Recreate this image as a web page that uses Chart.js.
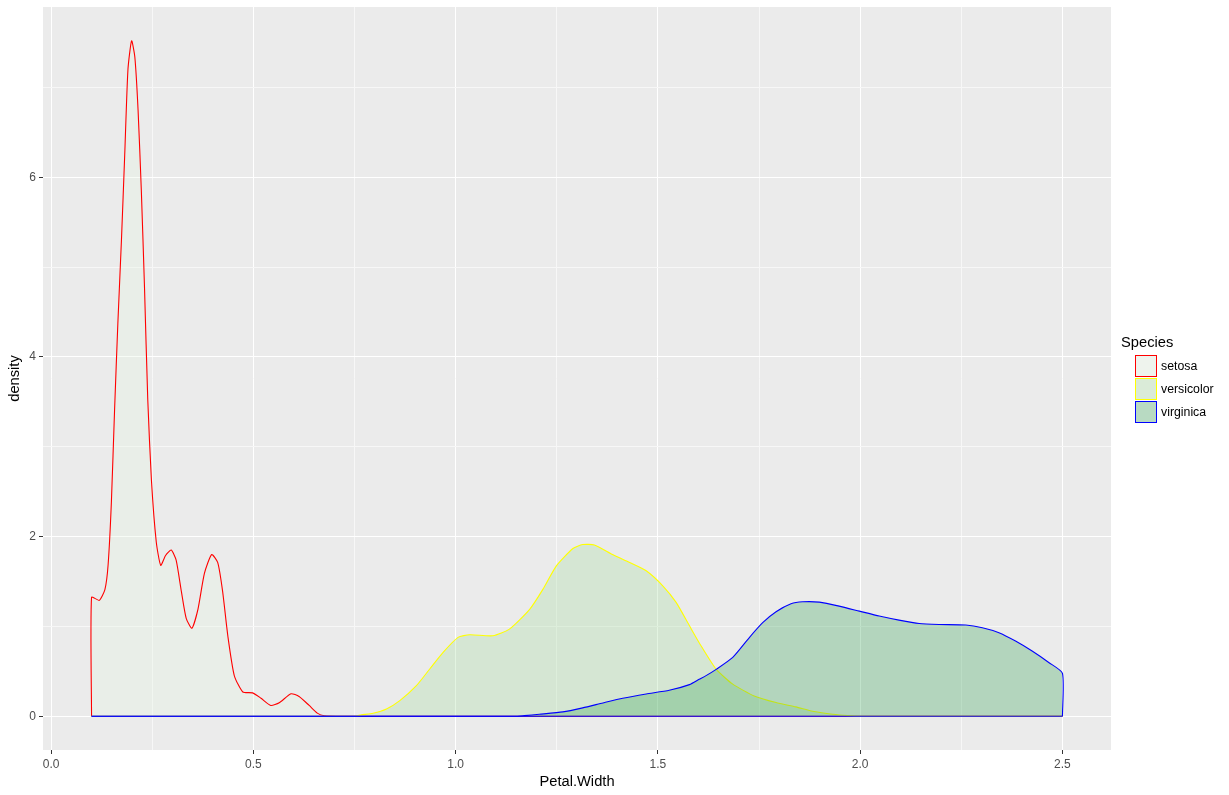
<!DOCTYPE html>
<html>
<head>
<meta charset="utf-8">
<title>Petal.Width density by Species</title>
<script src="https://cdn.jsdelivr.net/npm/chart.js@4.4.1/dist/chart.umd.min.js"></script>
<style>
  html, body { margin: 0; padding: 0; background: #ffffff; }
  #wrap { width: 1229px; height: 795px; position: relative; }
</style>
</head>
<body>
<div id="wrap"><canvas id="densityChart" width="1229" height="795"></canvas></div>
<script>
// species shown in the legend
const species = ['setosa', 'versicolor', 'virginica'];

// density outlines (Petal.Width, density)
const setosaWidth = [0.1, 0.1, 0.119, 0.133, 0.141, 0.149, 0.157, 0.165, 0.174, 0.182, 0.19, 0.199, 0.207,
  0.215, 0.223, 0.231, 0.239, 0.248, 0.26, 0.271, 0.283, 0.297, 0.309, 0.322, 0.334, 0.348, 0.363,
  0.379, 0.397, 0.412, 0.424, 0.437, 0.453, 0.474, 0.498, 0.519, 0.543, 0.564, 0.593, 0.613, 0.638,
  0.658, 0.675, 0.72, 2.5];
const setosaDensity = [0, 1.325, 1.29, 1.41, 1.69, 2.38, 3.42, 4.37, 5.31, 6.25, 7.2, 7.52, 7.34,
  6.75, 5.86, 4.76, 3.52, 2.63, 1.94, 1.68, 1.79, 1.85, 1.74, 1.39, 1.09, 0.98, 1.19,
  1.59, 1.8, 1.71, 1.39, 0.89, 0.45, 0.27, 0.26, 0.2, 0.12, 0.15, 0.25, 0.22, 0.12,
  0.035, 0.005, 0, 0];

const versicolorWidth = [0.1, 0.75, 0.767, 0.796, 0.829, 0.862, 0.903, 0.936, 0.969, 1.006, 1.035, 1.092,
  1.133, 1.183, 1.216, 1.249, 1.29, 1.314, 1.343, 1.388, 1.43, 1.471, 1.512, 1.545, 1.578, 1.602,
  1.644, 1.685, 1.738, 1.792, 1.841, 1.886, 1.932, 1.969, 2.0, 2.5];
const versicolorDensity = [0, 0, 0.015, 0.033, 0.081, 0.174, 0.34, 0.526, 0.711, 0.878, 0.907, 0.896,
  0.97, 1.19, 1.415, 1.674, 1.867, 1.911, 1.907, 1.8, 1.711, 1.619, 1.452, 1.267, 1.007, 0.819,
  0.524, 0.357, 0.226, 0.152, 0.104, 0.052, 0.022, 0.007, 0, 0];

const virginicaWidth = [0.1, 1.15, 1.17, 1.207, 1.265, 1.314, 1.364, 1.413, 1.471, 1.528, 1.578, 1.602,
  1.619, 1.644, 1.685, 1.726, 1.759, 1.792, 1.829, 1.858, 1.899, 1.948, 1.998, 2.047, 2.096, 2.146,
  2.195, 2.261, 2.302, 2.343, 2.384, 2.425, 2.467, 2.5, 2.5];
const virginicaDensity = [0, 0, 0.007, 0.022, 0.048, 0.093, 0.148, 0.2, 0.248, 0.289, 0.352, 0.411,
  0.452, 0.522, 0.655, 0.876, 1.041, 1.163, 1.252, 1.274, 1.27, 1.226, 1.17, 1.115, 1.07, 1.033,
  1.022, 1.015, 0.985, 0.93, 0.837, 0.726, 0.596, 0.478, 0];

// axis breaks and labels
const xBreaks = [0, 0.5, 1, 1.5, 2, 2.5];
const xTickLabels = ['0.0', '0.5', '1.0', '1.5', '2.0', '2.5'];
const xMinorBreaks = [0.25, 0.75, 1.25, 1.75, 2.25];
const yBreaks = [0, 2, 4, 6];
const yTickLabels = ['0', '2', '4', '6'];
const yMinorBreaks = [1, 3, 5, 7];

const lineColors = ['#FF0000', '#FFFF00', '#0000FF'];
const fillColors = ['rgba(229,245,224,0.3)', 'rgba(161,217,155,0.3)', 'rgba(49,163,84,0.3)'];
const FONT = '"Liberation Sans", Arial, sans-serif';

const toPoints = (xs, ys) => xs.map((x, i) => ({ x, y: ys[i] }));
const seriesPoints = [
  toPoints(setosaWidth, setosaDensity),
  toPoints(versicolorWidth, versicolorDensity),
  toPoints(virginicaWidth, virginicaDensity),
];
// bottom edge of the last polygon (virginica), spanning its own x range
const baseline = [
  { x: Math.min(...virginicaWidth), y: 0 },
  { x: Math.max(...virginicaWidth), y: 0 },
];

const isMajor = (breaks, v) => breaks.some(b => Math.abs(b - v) < 1e-9);
const setTicks = (major, minor) => scale => {
  scale.ticks = [...major, ...minor].sort((a, b) => a - b).map(v => ({ value: v }));
};

const panelBackground = {
  id: 'panelBackground',
  beforeDraw(chart) {
    const { ctx, chartArea: a } = chart;
    ctx.save();
    ctx.fillStyle = '#EBEBEB';
    ctx.fillRect(a.left, a.top, a.right - a.left, a.bottom - a.top);
    ctx.restore();
  },
};

const speciesLegend = {
  id: 'speciesLegend',
  afterDraw(chart) {
    const ctx = chart.ctx;
    ctx.save();
    ctx.fillStyle = '#000000';
    ctx.font = '14.7px ' + FONT;
    ctx.textBaseline = 'middle';
    ctx.fillText('Species', 1121, 343);
    const size = 22;
    species.forEach((name, i) => {
      const x = 1135;
      const y = 355 + i * 23;
      ctx.fillStyle = '#F2F2F2';
      ctx.fillRect(x, y, size, size);
      ctx.fillStyle = fillColors[i];
      ctx.fillRect(x, y, size, size);
      ctx.strokeStyle = lineColors[i];
      ctx.lineWidth = 1;
      ctx.strokeRect(x + 0.5, y + 0.5, size - 1, size - 1);
      ctx.fillStyle = '#000000';
      ctx.font = '12.3px ' + FONT;
      ctx.fillText(name, x + size + 4, y + size / 2 + 0.5);
    });
    ctx.restore();
  },
};

const densitySets = species.map((name, i) => ({
  label: name,
  data: seriesPoints[i],
  borderColor: lineColors[i],
  backgroundColor: fillColors[i],
  borderWidth: 1.1,
  pointRadius: 0,
  tension: 0.2,
  fill: 'origin',
  order: 4 - i,
}));

new Chart(document.getElementById('densityChart'), {
  type: 'line',
  data: {
    datasets: [
      ...densitySets,
      {
        label: 'virginica base',
        data: baseline,
        borderColor: lineColors[2],
        borderWidth: 1.1,
        pointRadius: 0,
        fill: false,
        order: 0,
      },
    ],
  },
  options: {
    responsive: false,
    animation: false,
    layout: { padding: { left: 0, right: 118, top: 7, bottom: 0 } },
    plugins: {
      legend: { display: false },
      tooltip: { enabled: false },
    },
    scales: {
      x: {
        type: 'linear',
        min: -0.02,
        max: 2.62,
        afterBuildTicks: setTicks(xBreaks, xMinorBreaks),
        afterFit: scale => { scale.height = 45; scale.paddingLeft = 0; scale.paddingRight = 0; },
        border: { display: false },
        grid: {
          color: c => isMajor(xBreaks, c.tick.value) ? '#FFFFFF' : '#F7F7F7',
          lineWidth: 1,
          tickLength: 4,
          tickColor: c => isMajor(xBreaks, c.tick.value) ? '#333333' : 'rgba(0,0,0,0)',
        },
        ticks: {
          autoSkip: false,
          maxRotation: 0,
          padding: 3,
          color: '#4D4D4D',
          font: { family: FONT, size: 12 },
          callback: v => {
            const i = xBreaks.findIndex(b => Math.abs(b - v) < 1e-9);
            return i >= 0 ? xTickLabels[i] : '';
          },
        },
        title: {
          display: true,
          text: 'Petal.Width',
          color: '#000000',
          font: { family: FONT, size: 14.7 },
          padding: { top: 0, bottom: 4 },
        },
      },
      y: {
        type: 'linear',
        min: -0.376,
        max: 7.896,
        afterBuildTicks: setTicks(yBreaks, yMinorBreaks),
        afterFit: scale => { scale.width = 43; scale.paddingTop = 0; scale.paddingBottom = 0; },
        border: { display: false },
        grid: {
          color: c => isMajor(yBreaks, c.tick.value) ? '#FFFFFF' : '#F7F7F7',
          lineWidth: 1,
          tickLength: 4,
          tickColor: c => isMajor(yBreaks, c.tick.value) ? '#333333' : 'rgba(0,0,0,0)',
        },
        ticks: {
          autoSkip: false,
          padding: 3,
          color: '#4D4D4D',
          font: { family: FONT, size: 12 },
          callback: v => {
            const i = yBreaks.findIndex(b => Math.abs(b - v) < 1e-9);
            return i >= 0 ? yTickLabels[i] : '';
          },
        },
        title: {
          display: true,
          text: 'density',
          color: '#000000',
          font: { family: FONT, size: 14.7 },
          padding: { top: 6, bottom: 0 },
        },
      },
    },
  },
  plugins: [panelBackground, speciesLegend],
});
</script>
</body>
</html>
